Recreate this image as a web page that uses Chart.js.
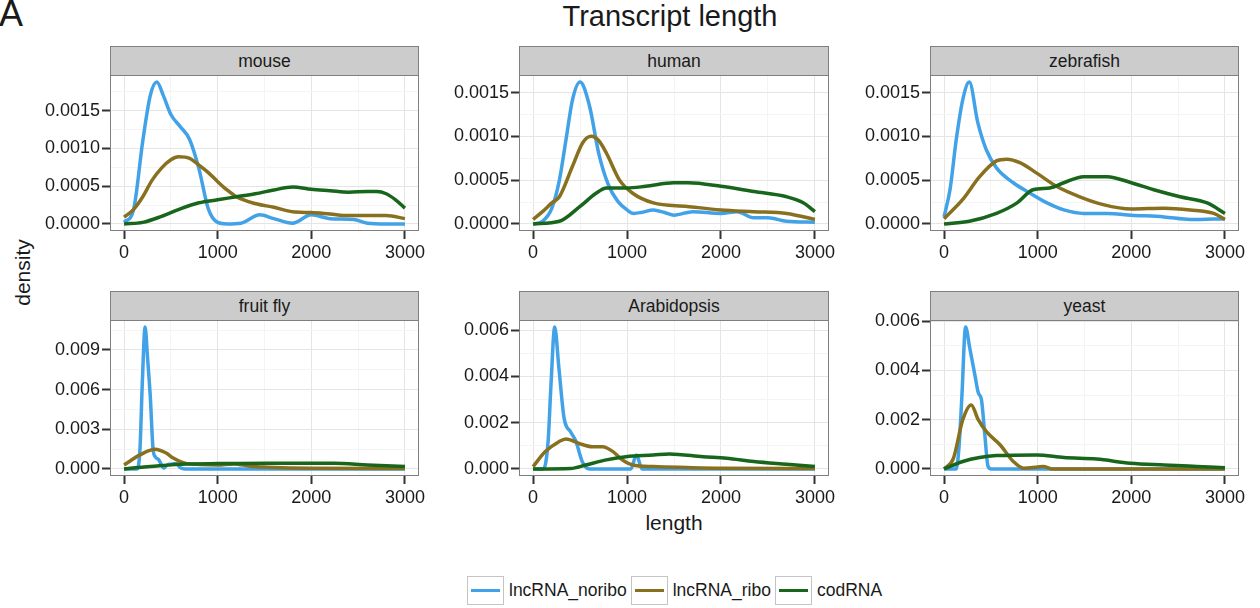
<!DOCTYPE html>
<html><head><meta charset="utf-8">
<script src="https://cdn.jsdelivr.net/npm/chart.js@4.4.0/dist/chart.umd.min.js"></script>
<style>
body{margin:0;background:#fff;width:1260px;height:608px;overflow:hidden;position:relative;font-family:"Liberation Sans",Arial,Helvetica,sans-serif;color:#1a1a1a}
.abs{position:absolute;white-space:nowrap}
.strip{position:absolute;box-sizing:border-box;height:30px;background:#cccccc;border:1px solid #7f7f7f;text-align:center;font-size:17.5px;line-height:28px;color:#1a1a1a}
canvas{position:absolute}
#legend{position:absolute;left:467px;top:576px;display:flex;align-items:center}
.key{box-sizing:border-box;width:37px;height:29px;border:1px solid #c4c4c4;position:relative}
.key div{position:absolute;left:3px;right:3px;top:12px;height:3px}
.ltxt{font-size:17.5px;margin:0 4px 0 5px;color:#1a1a1a}
</style></head>
<body>
<div class="abs" style="left:-1px;top:-4px;font-size:36px;line-height:36px">A</div>
<div class="abs" style="left:470px;width:400px;text-align:center;top:2px;font-size:29px;line-height:29px">Transcript length</div>
<div class="abs" style="left:574px;width:200px;text-align:center;top:512px;font-size:21px;line-height:21px">length</div>
<div class="abs" style="left:-28px;width:100px;text-align:center;top:262px;height:21px;font-size:21px;line-height:21px;transform:rotate(-90deg)">density</div>
<div id="legend"></div>
<script>
// ---------------- data ----------------
const speciesNames = ['mouse', 'human', 'zebrafish', 'fruit fly', 'Arabidopsis', 'yeast'];
const seriesNames = ['lncRNA_noribo', 'lncRNA_ribo', 'codRNA'];
const xTickValues = [0, 1000, 2000, 3000];
const yTicksTop = [0, 0.0005, 0.0010, 0.0015];      // mouse, human, zebrafish
const yTicksFly = [0, 0.003, 0.006, 0.009];          // fruit fly
const yTicksBottom = [0, 0.002, 0.004, 0.006];       // Arabidopsis, yeast

const mouseNoribo = [[0,0.00002],[100,0.00018],[200,0.0011],[280,0.0017],[350,0.00188],[420,0.0017],[500,0.00145],[600,0.00129],[700,0.00112],[800,0.00073],[900,0.0002],[1000,0.00002],[1100,0],[1250,0.00001],[1450,0.00012],[1600,0.00007],[1800,0.00001],[2000,0.00012],[2200,0.00007],[2450,0.00006],[2600,0.00001],[2800,0],[3000,0]];
const mouseRibo = [[0,0.00009],[100,0.00019],[200,0.00036],[300,0.00058],[400,0.00074],[500,0.00085],[580,0.00089],[700,0.00087],[800,0.00078],[900,0.00068],[1000,0.00056],[1100,0.00045],[1200,0.00036],[1400,0.00027],[1600,0.00022],[1800,0.00016],[2000,0.00015],[2200,0.00013],[2400,0.00011],[2600,0.00011],[2800,0.00011],[3000,0.00007]];
const mouseCod = [[0,0],[200,0.00002],[400,0.0001],[600,0.0002],[800,0.00028],[1000,0.00032],[1200,0.00036],[1400,0.0004],[1600,0.00045],[1800,0.00049],[2000,0.00046],[2200,0.00044],[2400,0.00042],[2600,0.00043],[2700,0.00043],[2800,0.0004],[2900,0.00032],[3000,0.00021]];

const humanNoribo = [[0,0],[100,0.00003],[200,0.00018],[280,0.0005],[350,0.00096],[420,0.00142],[500,0.00162],[600,0.00135],[700,0.0008],[800,0.00045],[900,0.00026],[1000,0.00016],[1070,0.00012],[1150,0.00013],[1280,0.00016],[1400,0.00013],[1500,0.0001],[1700,0.00014],[2000,0.00012],[2170,0.00014],[2350,0.00007],[2500,0.00007],[2700,0.00003],[3000,0.00002]];
const humanRibo = [[0,0.00005],[100,0.00014],[200,0.00024],[280,0.00031],[420,0.00066],[530,0.00093],[620,0.001],[700,0.00095],[780,0.00081],[920,0.0005],[1060,0.00035],[1280,0.00024],[1640,0.0002],[2000,0.00016],[2350,0.00014],[2700,0.00012],[3000,0.00005]];
const humanCod = [[0,0],[280,0.00003],[500,0.0002],[670,0.00035],[780,0.00041],[1000,0.00041],[1200,0.00043],[1500,0.00047],[1650,0.00047],[2000,0.00043],[2350,0.00037],[2700,0.00031],[2880,0.00024],[3000,0.00014]];

const zebraNoribo = [[0,0.00008],[65,0.0004],[130,0.00096],[200,0.00142],[270,0.00162],[360,0.00116],[450,0.00085],[560,0.00064],[740,0.00047],[920,0.00035],[1100,0.00024],[1280,0.00016],[1490,0.00012],[1740,0.00012],[2000,0.0001],[2350,0.00008],[2630,0.00005],[3000,0.00006]];
const zebraRibo = [[0,0.00006],[200,0.00028],[380,0.00054],[560,0.00072],[670,0.00074],[810,0.0007],[990,0.00058],[1200,0.00043],[1450,0.00031],[1700,0.00022],[2000,0.00017],[2350,0.00018],[2630,0.00016],[2880,0.00012],[3000,0.00005]];
const zebraCod = [[0,0],[270,0.00003],[560,0.00012],[780,0.00024],[950,0.00039],[1130,0.00041],[1280,0.00047],[1490,0.00054],[1740,0.00054],[2000,0.00047],[2240,0.00039],[2520,0.00031],[2810,0.00024],[3000,0.00012]];

const flyNoribo = [[0,0],[140,0],[170,0.0015],[195,0.0065],[225,0.01073],[250,0.0085],[280,0.0055],[310,0.0015],[335,0.0009],[370,0.0007],[400,0.0003],[425,0.00005],[460,0.0003],[500,0.00035],[560,0.0004],[600,0.0001],[650,0],[1000,0],[2000,0],[3000,0]];
const flyRibo = [[0,0.0003],[170,0.00106],[330,0.00149],[450,0.0012],[530,0.0008],[670,0.0004],[1000,0.0003],[1170,0.00038],[1350,0.0002],[1530,0.00013],[2000,0.00005],[3000,0.00003]];
const flyCod = [[0,0],[280,0.00018],[670,0.00038],[1000,0.0004],[1530,0.00043],[2240,0.00043],[2600,0.0003],[3000,0.00018]];

const arabNoribo = [[0,0],[110,0],[160,0.0012],[190,0.0036],[230,0.00614],[275,0.00435],[330,0.0022],[400,0.0016],[455,0.0012],[525,0.0003],[600,0],[1040,0],[1100,0.0006],[1160,0],[2000,0],[3000,0]];
const arabRibo = [[0,0.0001],[130,0.00075],[275,0.00118],[350,0.0013],[490,0.0011],[630,0.00096],[740,0.00096],[850,0.00075],[950,0.00039],[1060,0.00017],[1280,0.0001],[1630,0.00006],[2000,0.00003],[3000,0.00002]];
const arabCod = [[0,0],[400,0.00002],[560,0.00017],[780,0.00039],[990,0.00053],[1280,0.0006],[1450,0.00065],[1810,0.00053],[2060,0.00046],[2350,0.00032],[2700,0.0002],[3000,0.0001]];

const yeastNoribo = [[0,0],[130,0],[160,0.0009],[190,0.0029],[230,0.00576],[275,0.0049],[330,0.0038],[365,0.0031],[400,0.0028],[435,0.0014],[470,0.0001],[500,0],[1000,0],[2000,0],[3000,0]];
const yeastRibo = [[0,0],[100,0.00043],[200,0.002],[290,0.0026],[365,0.002],[455,0.0015],[600,0.00097],[740,0.0003],[850,0.00003],[1000,0.00008],[1060,0.0001],[1150,0],[2000,0],[3000,0]];
const yeastCod = [[0,0],[200,0.0003],[380,0.00046],[560,0.00054],[990,0.00057],[1280,0.00046],[1630,0.0004],[1990,0.00023],[2350,0.00016],[2700,0.0001],[3000,0.00005]];

// ---------------- styles / layout ----------------
const lineColors = ['#42a2e8', '#88701f', '#18661b'];
const panels = [
  {name: speciesNames[0], x:110, y:75,  w:309, h:156, yTicks:yTicksTop,    dec:4, series:[mouseNoribo, mouseRibo, mouseCod]},
  {name: speciesNames[1], x:519, y:75,  w:310, h:156, yTicks:yTicksTop,    dec:4, series:[humanNoribo, humanRibo, humanCod]},
  {name: speciesNames[2], x:930, y:75,  w:309, h:156, yTicks:yTicksTop,    dec:4, series:[zebraNoribo, zebraRibo, zebraCod]},
  {name: speciesNames[3], x:110, y:320, w:309, h:156, yTicks:yTicksFly,    dec:3, series:[flyNoribo, flyRibo, flyCod]},
  {name: speciesNames[4], x:519, y:320, w:310, h:156, yTicks:yTicksBottom, dec:3, series:[arabNoribo, arabRibo, arabCod]},
  {name: speciesNames[5], x:930, y:320, w:309, h:156, yTicks:yTicksBottom, dec:3, series:[yeastNoribo, yeastRibo, yeastCod]}
];
const LEFT = 100, RIGHT = 26, TOP = 14, BOTTOM = 44;
const GRID_MAJOR = '#e5e5e5', GRID_MINOR = '#f4f4f4', TICK = '#333333', TXT = '#1a1a1a';
const FONT = {family: '"Liberation Sans", Arial, Helvetica, sans-serif', size: 18};

const panelBorder = {
  id: 'panelBorder',
  afterDatasetsDraw(chart) {
    const a = chart.chartArea, c = chart.ctx;
    c.save();
    c.strokeStyle = '#7f7f7f';
    c.lineWidth = 1;
    c.strokeRect(a.left + 0.5, a.top + 0.5, a.right - a.left - 1, a.bottom - a.top - 1);
    c.restore();
  }
};

function withMinor(majors, min, max) {
  const half = (majors[1] - majors[0]) / 2;
  const out = [];
  for (let k = -2; k <= majors.length * 2 + 2; k++) {
    const v = majors[0] + k * half;
    if (v >= min - 1e-12 && v <= max + 1e-12) out.push({value: v});
  }
  return out;
}
function isMajor(v, majors) {
  return majors.some(m => Math.abs(m - v) < 1e-9);
}

panels.forEach(p => {
  const cv = document.createElement('canvas');
  cv.width = p.w + LEFT + RIGHT;
  cv.height = p.h + TOP + BOTTOM;
  cv.style.left = (p.x - LEFT) + 'px';
  cv.style.top = (p.y - TOP) + 'px';
  document.body.appendChild(cv);

  const yMax = Math.max(...p.series.flat().map(d => d[1]));
  const yLo = -0.05 * yMax, yHi = 1.05 * yMax;
  const xLo = -150, xHi = 3150;

  new Chart(cv, {
    type: 'line',
    data: {
      datasets: p.series.map((s, i) => ({
        label: seriesNames[i], data: s,
        borderColor: lineColors[i], backgroundColor: lineColors[i],
        borderWidth: 3.5, pointRadius: 0, fill: false,
        cubicInterpolationMode: 'monotone', order: 2 - i
      }))
    },
    options: {
      responsive: false, animation: false, devicePixelRatio: 1,
      layout: {padding: {top: TOP, right: RIGHT, left: 0, bottom: 0}},
      plugins: {legend: {display: false}, tooltip: {enabled: false}},
      events: [],
      scales: {
        x: {
          type: 'linear', min: xLo, max: xHi,
          afterBuildTicks: s => { s.ticks = withMinor(xTickValues, xLo, xHi); },
          afterFit: s => { s.height = BOTTOM; s.paddingLeft = 0; s.paddingRight = 0; },
          border: {display: false},
          grid: {
            color: c => isMajor(c.tick.value, xTickValues) ? GRID_MAJOR : GRID_MINOR,
            tickColor: c => isMajor(c.tick.value, xTickValues) ? TICK : 'rgba(0,0,0,0)',
            tickLength: 8, tickWidth: 2, lineWidth: 1
          },
          ticks: {
            autoSkip: false, maxRotation: 0, padding: 3, color: TXT, font: FONT,
            callback: v => isMajor(v, xTickValues) ? String(Math.round(v)) : ''
          }
        },
        y: {
          type: 'linear', min: yLo, max: yHi,
          afterBuildTicks: s => { s.ticks = withMinor(p.yTicks, yLo, yHi); },
          afterFit: s => { s.width = LEFT; s.paddingTop = 0; s.paddingBottom = 0; },
          border: {display: false},
          grid: {
            color: c => isMajor(c.tick.value, p.yTicks) ? GRID_MAJOR : GRID_MINOR,
            tickColor: c => isMajor(c.tick.value, p.yTicks) ? TICK : 'rgba(0,0,0,0)',
            tickLength: 8, tickWidth: 2, lineWidth: 1
          },
          ticks: {
            autoSkip: false, padding: 2, color: TXT, font: FONT,
            callback: v => isMajor(v, p.yTicks) ? v.toFixed(p.dec) : ''
          }
        }
      }
    },
    plugins: [panelBorder]
  });

  const st = document.createElement('div');
  st.className = 'strip';
  st.style.left = p.x + 'px';
  st.style.top = (p.y - 29) + 'px';
  st.style.width = p.w + 'px';
  st.textContent = p.name;
  document.body.appendChild(st);
});

const lg = document.getElementById('legend');
seriesNames.forEach((n, i) => {
  const k = document.createElement('div');
  k.className = 'key';
  const ln = document.createElement('div');
  ln.style.background = lineColors[i];
  k.appendChild(ln);
  const t = document.createElement('span');
  t.className = 'ltxt';
  t.textContent = n;
  lg.appendChild(k);
  lg.appendChild(t);
});
</script>
</body></html>
